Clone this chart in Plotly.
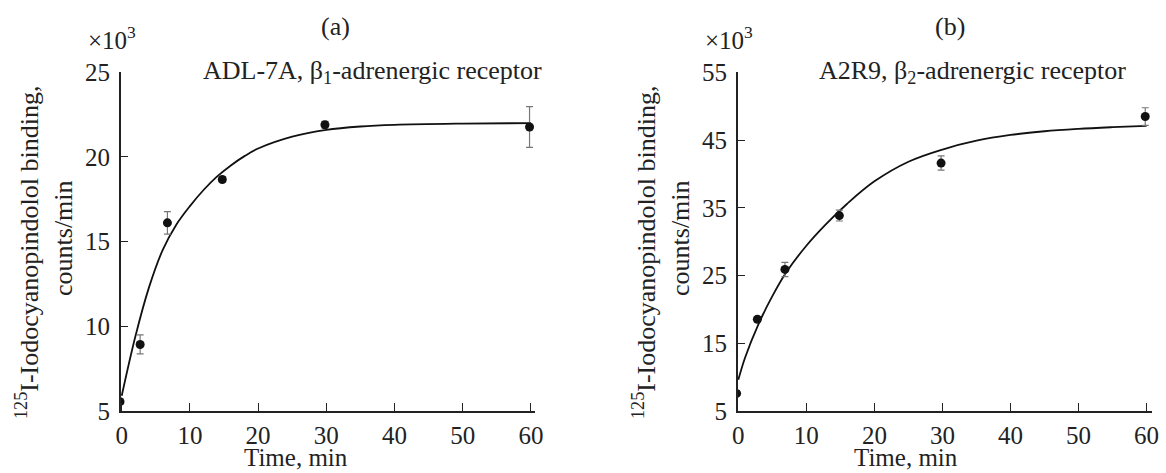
import plotly.graph_objects as go

# ---------------- data ----------------
# (a) ADL-7A, beta1-adrenergic receptor
time_a = [-0.25, 2.7, 6.7, 14.75, 29.8, 59.8]
binding_a = [5.55, 8.93, 16.11, 18.67, 21.9, 21.77]
err_a = [0.15, 0.56, 0.66, 0.15, 0.2, 1.2]
fit_t_a = [0, 2, 4, 6, 8, 10, 12, 14, 16, 18, 20, 25, 30, 35, 40, 50, 60]
fit_y_a = [5.9, 9.4, 12.3, 14.5, 16.0, 17.1, 18.05, 18.85, 19.5, 20.05, 20.5, 21.2, 21.6, 21.8, 21.9, 21.97, 22.0]

# (b) A2R9, beta2-adrenergic receptor
time_b = [-0.25, 2.8, 6.85, 14.85, 29.8, 59.8]
binding_b = [7.6, 18.55, 25.9, 33.85, 41.6, 48.47]
err_b = [0.3, 0.4, 1.05, 0.8, 1.05, 1.3]
fit_t_b = [0, 1, 3, 5, 7, 10, 13, 16, 20, 25, 30, 35, 40, 45, 50, 55, 60]
fit_y_b = [9.6, 12.9, 17.9, 21.95, 25.4, 29.4, 32.7, 35.6, 38.9, 41.8, 43.6, 44.9, 45.75, 46.3, 46.65, 46.9, 47.1]

x_ticks = [0, 10, 20, 30, 40, 50, 60]
y_ticks_a = [5, 10, 15, 20, 25]
y_ticks_b = [5, 15, 25, 35, 45, 55]

# ---------------- figure ----------------
W, H = 1166, 473
FONT = "Liberation Serif"

fig = go.Figure()

def add_panel(t, y, e, ft, fy, xa, ya):
    fig.add_trace(go.Scatter(x=ft, y=fy, mode="lines", line=dict(color="#111", width=1.8, shape="spline"),
                             xaxis=xa, yaxis=ya, showlegend=False, hoverinfo="skip"))
    fig.add_trace(go.Scatter(x=t, y=y, mode="markers",
                             marker=dict(color="#111", size=9),
                             error_y=dict(type="data", array=e, visible=True, color="#777", thickness=1.2, width=3.5),
                             xaxis=xa, yaxis=ya, showlegend=False))

add_panel(time_a, binding_a, err_a, fit_t_a, fit_y_a, "x", "y")
add_panel(time_b, binding_b, err_b, fit_t_b, fit_y_b, "x2", "y2")

def px2fx(px):
    return px / W

def py2fy(py):
    return 1 - py / H

axis_common = dict(showline=True, linecolor="#222", linewidth=1.5, ticks="inside", ticklen=8,
                   tickwidth=1.3, tickcolor="#222", showgrid=False, zeroline=False, automargin=False,
                   tickfont=dict(family=FONT, size=25, color="#222"))

fig.update_layout(
    template="none",
    width=W, height=H, margin=dict(l=0, r=0, t=0, b=0, pad=0, autoexpand=False),
    paper_bgcolor="white", plot_bgcolor="white",
    xaxis=dict(domain=[px2fx(120.7), px2fx(535)], range=[-0.15, 60.6], tickvals=x_ticks, anchor="y",
               ticklabelstandoff=1, **axis_common),
    yaxis=dict(domain=[py2fy(411), py2fy(72.3)], range=[5, 25], tickvals=y_ticks_a, anchor="x",
               ticklabelstandoff=4, **axis_common),
    xaxis2=dict(domain=[px2fx(737.7), px2fx(1151.7)], range=[-0.09, 60.75], tickvals=x_ticks, anchor="y2",
                ticklabelstandoff=1, **axis_common),
    yaxis2=dict(domain=[py2fy(411), py2fy(72.3)], range=[5, 55], tickvals=y_ticks_b, anchor="x2",
                ticklabelstandoff=4, **axis_common),
)

def ann(text, x, y, size=25, angle=0):
    fig.add_annotation(text=text, x=px2fx(x), y=py2fy(y), xref="paper", yref="paper",
                       showarrow=False, textangle=angle, xanchor="center", yanchor="middle",
                       font=dict(family=FONT, size=size, color="#222"))

for dx in (0, 617):
    ann("<sup>125</sup>I-Iodocyanopindolol binding,", 28 + dx, 253, size=26, angle=-90)
    ann("counts/min", 63 + dx, 238, size=26, angle=-90)
    ann("×10<sup>3</sup>", 112 + dx, 38)

ann("Time, min", 296, 457)
ann("Time, min", 906, 457)
ann("(a)", 335, 27, size=26)
ann("(b)", 950, 27, size=26)
ann("ADL-7A, β<sub>1</sub>-adrenergic receptor", 372, 72, size=26)
ann("A2R9, β<sub>2</sub>-adrenergic receptor", 973, 72, size=26)

fig.write_html("out.html")
